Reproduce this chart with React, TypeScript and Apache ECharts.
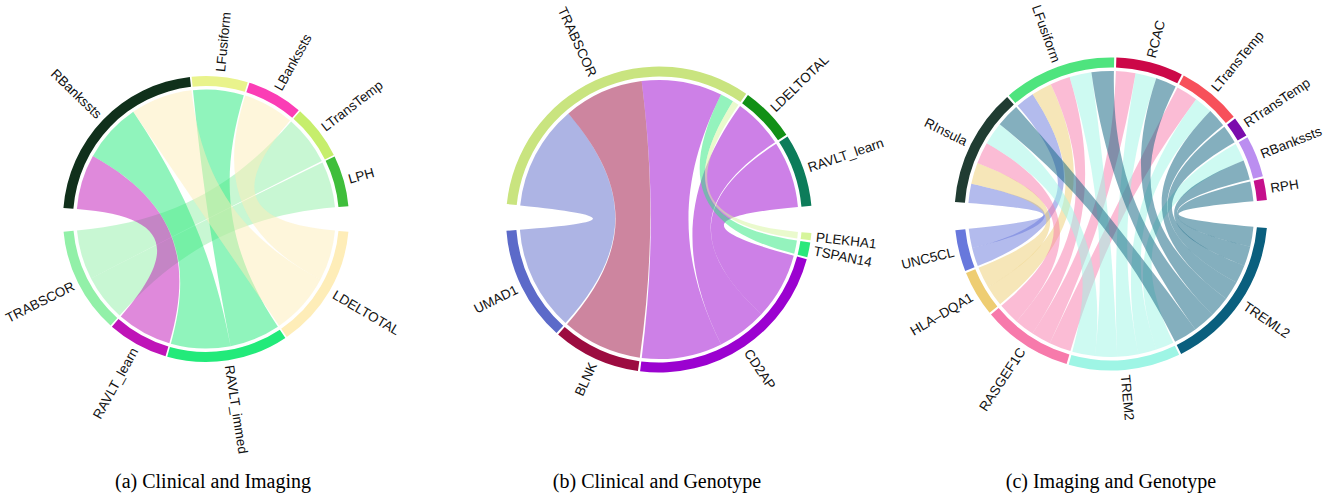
import React, { useEffect, useRef } from 'react';
import * as echarts from 'echarts';

// ---------- Chart (a) Clinical and Imaging ----------
const aTop = ['RBankssts', 'LFusiform', 'LBankssts', 'LTransTemp', 'LPH'];
const aTopColors = ['#10301b', '#e9f38c', '#fb3db5', '#c6ee6c', '#3fbe3b'];
const aBottom = ['LDELTOTAL', 'RAVLT_immed', 'RAVLT_learn', 'TRABSCOR'];
const aBottomColors = ['#feedb8', '#22ea7a', '#bf14b8', '#92f0a8'];
const aLinks: [string, string, number][] = [
  ['RBankssts', 'RAVLT_learn', 25],
  ['RBankssts', 'RAVLT_immed', 27],
  ['RBankssts', 'LDELTOTAL', 28],
  ['LFusiform', 'RAVLT_immed', 23],
  ['LBankssts', 'LDELTOTAL', 23],
  ['LTransTemp', 'TRABSCOR', 22.5],
  ['LPH', 'TRABSCOR', 21],
];
const aGaps = [9.0, 8.2];

// ---------- Chart (b) Clinical and Genotype ----------
const bTop = ['TRABSCOR', 'LDELTOTAL', 'RAVLT_learn'];
const bTopColors = ['#c9e47f', '#129016', '#0c7c5a'];
const bBottom = ['PLEKHA1', 'TSPAN14', 'CD2AP', 'BLNK', 'UMAD1'];
const bBottomColors = ['#d6f59c', '#2ae87c', '#9b02d0', '#9c0c40', '#5c6ac9'];
const bLinks: [string, string, number][] = [
  ['TRABSCOR', 'UMAD1', 43.5],
  ['TRABSCOR', 'BLNK', 33.2],
  ['TRABSCOR', 'CD2AP', 33.4],
  ['TRABSCOR', 'TSPAN14', 5.6],
  ['TRABSCOR', 'PLEKHA1', 2.7],
  ['LDELTOTAL', 'CD2AP', 20.7],
  ['RAVLT_learn', 'CD2AP', 27.6],
];
const bGaps = [8.6, 8.4];

// ---------- Chart (c) Imaging and Genotype ----------
const cTop = ['RInsula', 'LFusiform', 'RCAC', 'LTransTemp', 'RTransTemp', 'RBankssts', 'RPH'];
const cTopColors = ['#203c32', '#4ee47e', '#cc0848', '#f7505a', '#7b0cad', '#bb8ef0', '#c5108c'];
const cBottom = ['TREML2', 'TREM2', 'RASGEF1C', 'HLA\u2013DQA1', 'UNC5CL'];
const cBottomColors = ['#0a5f7e', '#9ef5e5', '#f77aab', '#eecd72', '#6878dc'];
const cLinks: [string, string, number][] = [
  ['RInsula', 'UNC5CL', 7.8],
  ['RInsula', 'HLA\u2013DQA1', 8.6],
  ['RInsula', 'RASGEF1C', 8.7],
  ['RInsula', 'TREM2', 9.2],
  ['RInsula', 'TREML2', 9.5],
  ['LFusiform', 'UNC5CL', 7.5],
  ['LFusiform', 'HLA\u2013DQA1', 8.3],
  ['LFusiform', 'RASGEF1C', 8.0],
  ['LFusiform', 'TREM2', 8.9],
  ['LFusiform', 'TREML2', 9.0],
  ['RCAC', 'RASGEF1C', 7.9],
  ['RCAC', 'TREM2', 8.5],
  ['RCAC', 'TREML2', 8.4],
  ['LTransTemp', 'RASGEF1C', 8.8],
  ['LTransTemp', 'TREM2', 7.4],
  ['LTransTemp', 'TREML2', 7.6],
  ['RTransTemp', 'TREML2', 7.4],
  ['RBankssts', 'TREM2', 7.3],
  ['RBankssts', 'TREML2', 8.0],
  ['RPH', 'TREML2', 8.0],
];
const cGaps = [8.6, 8.7];

const titles = ['(a) Clinical and Imaging', '(b) Clinical and Genotype', '(c) Imaging and Genotype'];

interface ChordCfg {
  top: string[];
  topColors: string[];
  bottom: string[];
  bottomColors: string[];
  links: [string, string, number][];
  gaps: number[];
  center: [number, number];
  ring: [number, number];
  ribbonR: number;
  startAngle: number;
  pad: number;
  titleX: number;
}

const configs: ChordCfg[] = [
  { top: aTop, topColors: aTopColors, bottom: aBottom, bottomColors: aBottomColors, links: aLinks, gaps: aGaps,
    center: [206, 219], ring: [133, 143], ribbonR: 129.5, startAngle: 175.6, pad: 0.7, titleX: 213 },
  { top: bTop, topColors: bTopColors, bottom: bBottom, bottomColors: bBottomColors, links: bLinks, gaps: bGaps,
    center: [659, 219.5], ring: [143, 153], ribbonR: 139.5, startAngle: 174.2, pad: 0.8, titleX: 657 },
  { top: cTop, topColors: cTopColors, bottom: cBottom, bottomColors: cBottomColors, links: cLinks, gaps: cGaps,
    center: [1111, 214], ring: [146.5, 156.5], ribbonR: 143, startAngle: 175.6, pad: 0.8, titleX: 1111 },
];

function buildSeries(cfg: ChordCfg): any[] {
  const totals = new Map<string, number>();
  cfg.links.forEach(([s, t, v]) => {
    totals.set(s, (totals.get(s) || 0) + v);
    totals.set(t, (totals.get(t) || 0) + v);
  });
  const colorOf = new Map<string, string>();
  cfg.top.forEach((n, i) => colorOf.set(n, cfg.topColors[i]));
  cfg.bottom.forEach((n, i) => colorOf.set(n, cfg.bottomColors[i]));

  const nodes = [
    ...cfg.top.map((n) => ({ name: n, value: totals.get(n) || 0, color: colorOf.get(n)!, real: true })),
    { name: '__gapR', value: cfg.gaps[0], color: 'rgba(255,255,255,0)', real: false },
    ...cfg.bottom.map((n) => ({ name: n, value: totals.get(n) || 0, color: colorOf.get(n)!, real: true })),
    { name: '__gapL', value: cfg.gaps[1], color: 'rgba(255,255,255,0)', real: false },
  ];
  const sum = nodes.reduce((a, n) => a + n.value, 0);
  const padValue = (cfg.pad * sum) / (360 - cfg.pad * nodes.length);

  const pieData: any[] = [];
  nodes.forEach((n) => {
    pieData.push({ name: n.name, value: n.value, itemStyle: { color: n.color }, label: { show: n.real } });
    pieData.push({ name: n.name + '__pad', value: padValue, itemStyle: { color: 'rgba(255,255,255,0)' }, label: { show: false } });
  });

  const sorted = cfg.links.slice().sort((l1, l2) => {
    const k1 = cfg.top.indexOf(l1[0]) + cfg.bottom.indexOf(l1[1]);
    const k2 = cfg.top.indexOf(l2[0]) + cfg.bottom.indexOf(l2[1]);
    return k2 - k1;
  });

  const chord = {
    type: 'chord',
    center: cfg.center,
    radius: [cfg.ribbonR, cfg.ribbonR],
    startAngle: cfg.startAngle,
    clockwise: true,
    padAngle: cfg.pad,
    minAngle: 0,
    silent: true,
    label: { show: false },
    itemStyle: { borderRadius: 0 },
    lineStyle: { color: 'target', opacity: 0.5, width: 0 },
    data: nodes.map((n) => ({ name: n.name, value: n.value, itemStyle: { color: n.color } })),
    links: sorted.map(([s, t, v]) => ({ source: s, target: t, value: v })),
  };

  const pie = {
    type: 'pie',
    center: cfg.center,
    radius: cfg.ring,
    startAngle: cfg.startAngle,
    clockwise: true,
    avoidLabelOverlap: false,
    silent: true,
    minAngle: 0,
    itemStyle: { borderWidth: 0 },
    emphasis: { disabled: true },
    labelLayout: { hideOverlap: false },
    label: {
      position: 'outside',
      rotate: 'radial',
      fontSize: 13.5,
      fontFamily: 'Liberation Sans',
      color: '#111',
      distanceToLabelLine: 0,
    },
    labelLine: { show: false, length: 5, length2: 0 },
    data: pieData,
  };
  return [chord, pie];
}

export default function App() {
  const ref = useRef<HTMLDivElement>(null);
  useEffect(() => {
    if (!ref.current) return;
    const chart = echarts.init(ref.current, undefined, { renderer: 'svg' });
    const series: any[] = [];
    configs.forEach((c) => series.push(...buildSeries(c)));
    chart.setOption({
      animation: false,
      backgroundColor: '#ffffff',
      series,
      graphic: titles.map((t, i) => ({
        type: 'text',
        x: configs[i].titleX,
        y: 481,
        style: {
          text: t,
          font: '20px "Liberation Serif", serif',
          fill: '#000',
          textAlign: 'center',
          textVerticalAlign: 'middle',
        },
      })),
    });
    return () => chart.dispose();
  }, []);
  return <div ref={ref} style={{ position: 'fixed', left: 0, top: 0, width: 1328, height: 493 }} />;
}
